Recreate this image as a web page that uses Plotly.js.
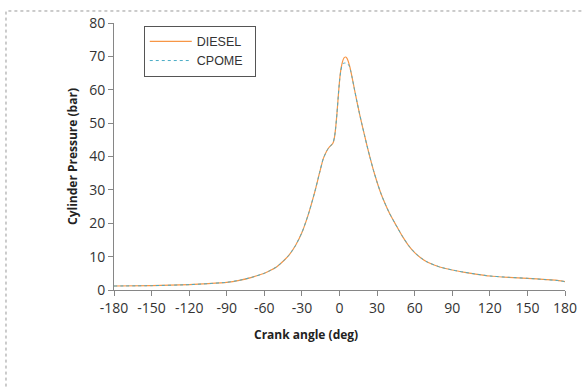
<!DOCTYPE html>
<html>
<head>
<meta charset="utf-8">
<script src="https://cdn.plot.ly/plotly-3.0.1.min.js"></script>
<style>html,body{margin:0;padding:0;background:#fff;}#chart{width:584px;height:387px;}</style>
</head>
<body>
<div id="chart"></div>
<script>
var crankAngle = [-180,-150,-120,-105,-90,-80,-70,-60,-55,-50,-45,-40,-35,-30,-25,-20,-16,-13,-10,-8,-6,-5,-4,-3,-2,-1,0,1,2,3,4,5,6,7,8,9,10,12,14,16,18,20,22,24,27,30,33,36,40,45,50,55,60,65,70,80,90,100,110,120,135,150,165,175,180];
var dieselPressure = [1.2,1.3,1.6,1.9,2.3,2.9,3.8,5.0,5.9,7.0,8.6,10.6,13.4,17.2,22.5,29,35,39.3,41.8,42.9,43.6,44.2,45.8,48.8,53,58,62.5,65.8,67.8,69.1,69.7,69.8,69.4,68.5,67.2,65.6,63.8,60,56.3,52.8,49.5,46.3,43.2,40.2,36,32.3,29,26.2,22.9,19.5,16.2,13.4,11.2,9.6,8.4,6.9,6.0,5.3,4.7,4.2,3.8,3.5,3.1,2.8,2.5];
var cpomePressure = [1.2,1.3,1.6,1.9,2.3,2.9,3.8,5.0,5.9,7.0,8.6,10.6,13.4,17.2,22.5,29,35,39.3,41.8,42.9,43.6,44.2,45.8,48.8,53,58,62.5,65.6,67.3,67.9,68,68,67.9,67.6,66.9,65.5,63.8,60,56.3,52.8,49.5,46.3,43.2,40.2,36,32.3,29,26.2,22.9,19.5,16.2,13.4,11.2,9.6,8.4,6.9,6.0,5.3,4.7,4.2,3.8,3.5,3.1,2.8,2.5];
var xTicks = [-180,-150,-120,-90,-60,-30,0,30,60,90,120,150,180];
var yTicks = [0,10,20,30,40,50,60,70,80];

var traces = [
  {x: crankAngle, y: dieselPressure, name: 'DIESEL&nbsp;&nbsp;', mode: 'lines', type: 'scatter',
   line: {color: '#F79646', width: 1.2, shape: 'spline', smoothing: 0.5}},
  {x: crankAngle, y: cpomePressure, name: 'CPOME&nbsp;&nbsp;', mode: 'lines', type: 'scatter',
   line: {color: '#4BACC6', width: 1, dash: 'dot', shape: 'spline', smoothing: 0.5}}
];

var layout = {
  width: 584, height: 387,
  margin: {l: 114, r: 19, t: 23, b: 97},
  paper_bgcolor: '#fff', plot_bgcolor: '#fff',
  showlegend: true,
  font: {family: 'Open Sans, Liberation Sans, sans-serif', color: '#333'},
  xaxis: {
    range: [-180, 180], tickvals: xTicks, ticktext: xTicks.map(String),
    showgrid: false, zeroline: false, showline: true, linecolor: '#868686', linewidth: 1,
    ticks: 'outside', ticklen: 5, tickcolor: '#868686',
    tickfont: {family: 'Open Sans, sans-serif', size: 14, color: '#333'},
    title: {text: ''}
  },
  yaxis: {
    range: [0, 80], tickvals: yTicks, ticktext: yTicks.map(String),
    showgrid: false, zeroline: false, showline: true, linecolor: '#868686', linewidth: 1,
    ticks: 'outside', ticklen: 5, tickcolor: '#868686',
    tickfont: {family: 'Open Sans, sans-serif', size: 14, color: '#333'},
    title: {text: '<b>Cylinder Pressure (bar)</b>', font: {family: 'Open Sans, sans-serif', size: 12, color: '#222'}, standoff: 8}
  },
  annotations: [
    {text: '<b>Crank angle (deg)</b>', xref: 'paper', yref: 'paper', x: 0.426, y: -0.168,
     xanchor: 'center', yanchor: 'middle', showarrow: false,
     font: {family: 'Open Sans, sans-serif', size: 12, color: '#222'}}
  ],
  legend: {
    x: 0.066, y: 0.99, xanchor: 'left', yanchor: 'top',
    bordercolor: '#555', borderwidth: 1, bgcolor: '#fff',
    font: {family: 'Liberation Sans, Arial, sans-serif', size: 12.5, color: '#333'},
    itemwidth: 42,
    tracegroupgap: 0
  },
  shapes: [
    {type: 'rect', xref: 'paper', yref: 'paper', x0: -0.2395, x1: 1.1, y0: -0.45, y1: 1.045,
     line: {color: '#999', width: 1, dash: 'dot'}, fillcolor: 'rgba(0,0,0,0)', layer: 'below'}
  ]
};

Plotly.newPlot('chart', traces, layout, {displayModeBar: false, staticPlot: true});
</script>
</body>
</html>
